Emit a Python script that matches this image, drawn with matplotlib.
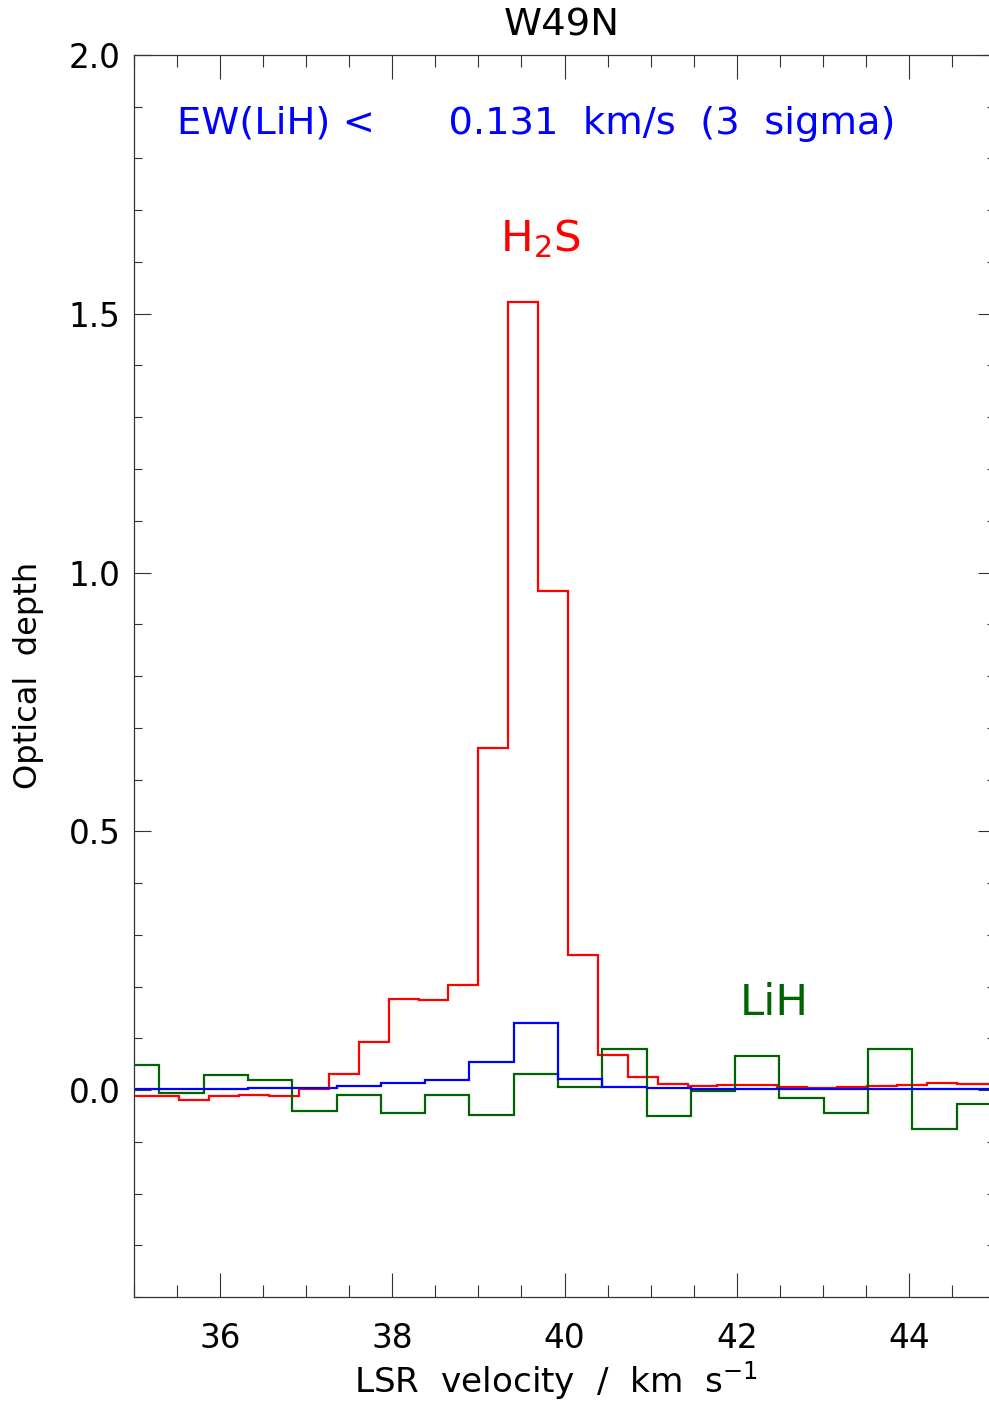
import matplotlib
matplotlib.use('Agg')
import matplotlib.pyplot as plt
from matplotlib.ticker import MultipleLocator
import numpy as np

# ---- data ----
# H2S optical depth (channel centres in km/s)
h2s_vel = [35.006, 35.353, 35.700, 36.048, 36.395, 36.742, 37.089, 37.436,
           37.784, 38.131, 38.478, 38.825, 39.172, 39.519, 39.867, 40.214,
           40.561, 40.908, 41.255, 41.603, 41.950, 42.297, 42.644, 42.991,
           43.339, 43.686, 44.033, 44.380, 44.727, 45.075]
h2s_tau = [-0.011, -0.011, -0.019, -0.011, -0.009, -0.012, 0.001, 0.030,
           0.093, 0.175, 0.173, 0.203, 0.660, 1.523, 0.965, 0.261,
           0.068, 0.026, 0.011, 0.007, 0.009, 0.009, 0.005, 0.004,
           0.006, 0.007, 0.010, 0.013, 0.012, 0.012]

# LiH optical depth and the scaled model (same channels)
lih_vel = [35.038, 35.552, 36.066, 36.581, 37.095, 37.610, 38.124, 38.638,
           39.153, 39.667, 40.182, 40.696, 41.210, 41.725, 42.239, 42.754,
           43.268, 43.782, 44.297, 44.811]
lih_tau = [0.048, -0.005, 0.029, 0.019, -0.041, -0.010, -0.045, -0.010,
           -0.048, 0.030, 0.006, 0.080, -0.051, -0.001, 0.066, -0.015,
           -0.045, 0.079, -0.075, -0.027]
model_tau = [0.001, 0.001, 0.001, 0.003, 0.004, 0.008, 0.013, 0.019,
             0.055, 0.129, 0.022, 0.006, 0.003, 0.002, 0.002, 0.001,
             0.001, 0.001, 0.001, 0.001]

ew_limit = 0.131
source = 'W49N'

RED = '#FF0000'
BLUE = '#0000FF'
GREEN = '#006400'


def channel_edges(centres):
    """channel boundaries from the channel centres"""
    c = np.asarray(centres)
    mid = (c[:-1] + c[1:]) / 2
    return np.concatenate([[c[0] - (c[1] - c[0]) / 2], mid,
                           [c[-1] + (c[-1] - c[-2]) / 2]])


plt.rcParams.update({
    'font.family': 'DejaVu Sans',
    'mathtext.default': 'regular',
})

W, H = 989, 1403
fig = plt.figure(figsize=(W / 100, H / 100), dpi=100)
# axes: left spine at x=134px, right spine just outside the image
ax = fig.add_axes([134 / W, (H - 1297) / H, (995 - 134) / W, (1297 - 55) / H])

ax.stairs(h2s_tau, channel_edges(h2s_vel), color=RED, lw=1.6, baseline=None)
ax.stairs(lih_tau, channel_edges(lih_vel), color=GREEN, lw=1.6, baseline=None)
ax.stairs(model_tau, channel_edges(lih_vel), color=BLUE, lw=1.6, baseline=None)

ax.set_xlim(35, 45)
ax.set_ylim(-0.4, 2.0)

ax.xaxis.set_major_locator(MultipleLocator(2))
ax.xaxis.set_minor_locator(MultipleLocator(0.5))
ax.yaxis.set_minor_locator(MultipleLocator(0.1))
ax.set_yticks([0.0, 0.5, 1.0, 1.5, 2.0])
ax.set_yticklabels(['0.0', '0.5', '1.0', '1.5', '2.0'])

ax.tick_params(axis='both', which='both', direction='in', top=True, right=True,
               width=0.8, color='#333333', labelsize=23.5)
ax.tick_params(axis='x', which='major', length=17.5, pad=18)
ax.tick_params(axis='x', which='minor', length=8.6)
ax.tick_params(axis='y', which='major', length=12, pad=9.5)
ax.tick_params(axis='y', which='minor', length=6)
for sp in ax.spines.values():
    sp.set_linewidth(0.9)
    sp.set_color('#333333')

# annotations
ax.text(35.50, 1.847, 'EW(LiH) <      %.3f  km/s  (3  sigma)' % ew_limit,
        color=BLUE, fontsize=27.7, ha='left', va='baseline')
ax.text(39.25, 1.622, 'H$_2$S', color=RED, fontsize=31.3, ha='left', va='baseline')
ax.text(42.037, 0.145, 'LiH', color=GREEN, fontsize=31.3, ha='left', va='baseline')

fig.text(562 / W, 1 - 35 / H, source, fontsize=27.7, ha='center', va='baseline')
fig.text(556 / W, 1 - 1393 / H, 'LSR  velocity  /  km  s$^{-1}$', fontsize=24.7,
         ha='center', va='baseline')
fig.text(37 / W, (H - 675) / H, 'Optical  depth', fontsize=23.1, rotation=90,
         rotation_mode='anchor', ha='center', va='baseline')

fig.savefig('out.png', dpi=100)
print('out.png saved')
